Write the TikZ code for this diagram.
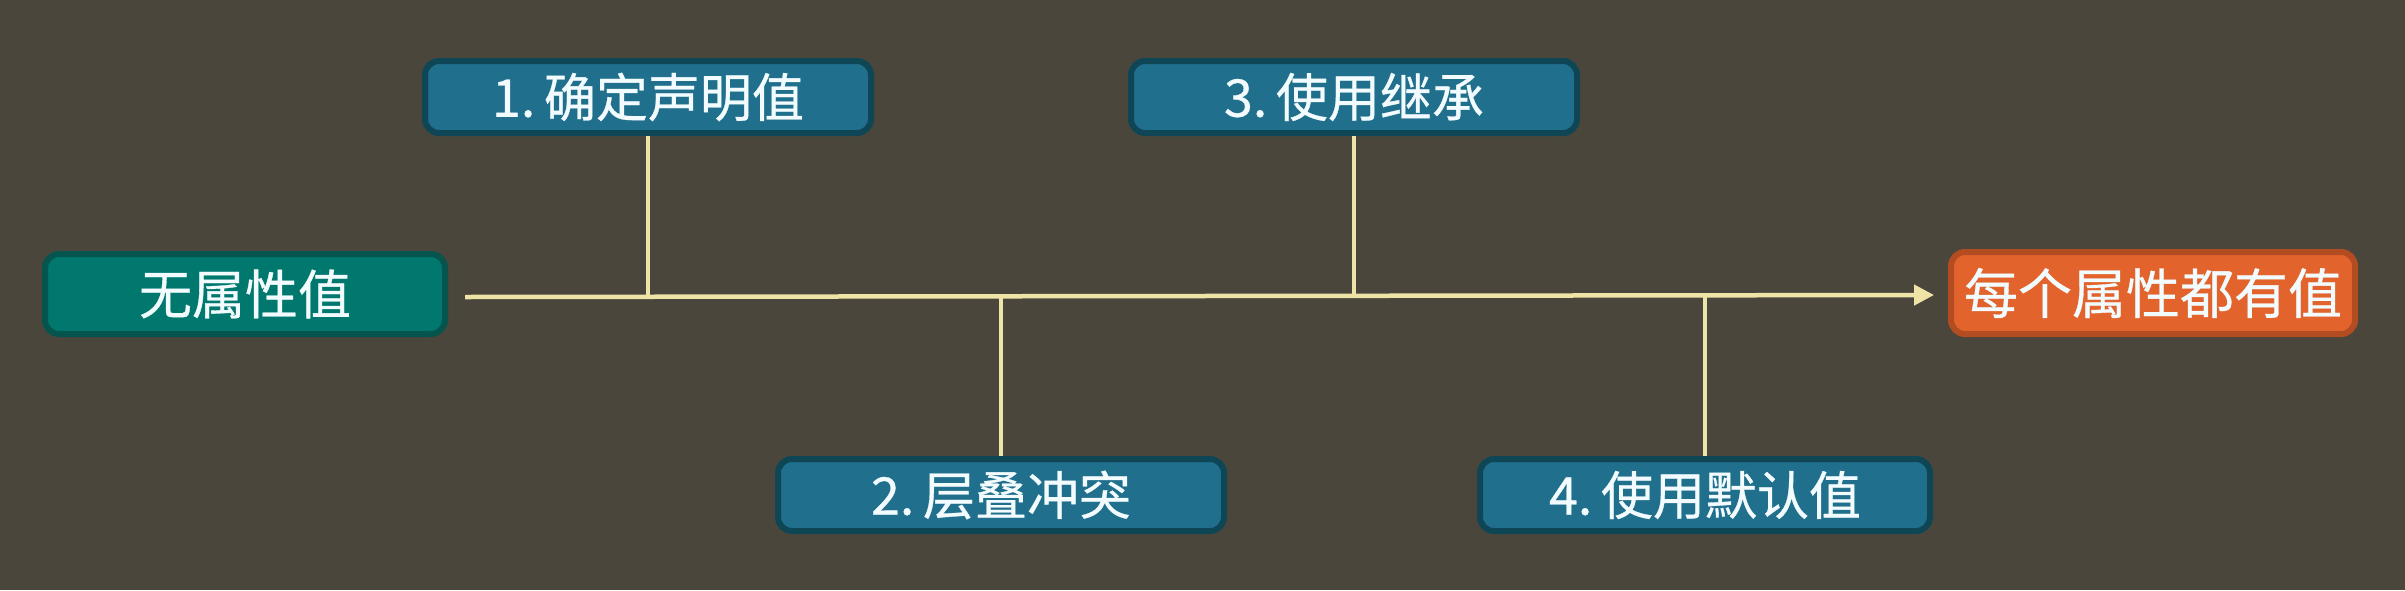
\documentclass[tikz,border=0pt]{standalone}
\usepackage{fontspec}
\usepackage{tikz}
\usetikzlibrary{arrows.meta}
\newfontfamily\cjk[FakeBold=0.6]{Noto Sans CJK SC}
\definecolor{bgolive}{HTML}{4A463C}
\definecolor{tealfill}{HTML}{00786E}
\definecolor{tealrim}{HTML}{05554E}
\definecolor{bluefill}{HTML}{206F8C}
\definecolor{bluerim}{HTML}{0F4656}
\definecolor{orangefill}{HTML}{E2642C}
\definecolor{orangerim}{HTML}{B44C22}
\definecolor{paleline}{HTML}{EDE4A6}
\begin{document}
\begin{tikzpicture}[x=1pt,y=-1pt]
        \tikzset{box/.style={rounded corners=14pt, line width=6pt, inner sep=0pt,
                text=white!95!cyan, font=\cjk\fontsize{52}{56}\selectfont},
            startbox/.style={box, fill=tealfill, draw=tealrim, minimum width=400pt, minimum height=80pt,
                font=\cjk\fontsize{53}{57}\selectfont},
            stepbox/.style={box, fill=bluefill, draw=bluerim, minimum width=446pt, minimum height=72pt},
            endbox/.style={box, fill=orangefill, draw=orangerim, minimum width=404pt, minimum height=82pt,
                font=\cjk\fontsize{54}{58}\selectfont},
            flow/.style={draw=paleline, line width=4.5pt},
            stem/.style={draw=paleline, line width=4pt}}
        \fill [bgolive] (0,0) rectangle (2405,590);
        \useasboundingbox (0,0) rectangle (2405,590);
        \node [startbox] (start) at (245,294) {无属性值};
        \node [stepbox] (s1) at (648,97) {1.\,确定声明值};
        \node [stepbox] (s2) at (1001,495) {2.\,层叠冲突};
        \node [stepbox] (s3) at (1354,97) {3.\,使用继承};
        \node [stepbox, minimum width=450pt] (s4) at (1705,495) {4.\,使用默认值};
        \node [endbox] (finish) at (2153,293) {每个属性都有值};
        \coordinate (lineL) at ([xshift=17pt, yshift=-3pt]start.east);
        \coordinate (lineR) at ([xshift=-14pt, yshift=-2pt]finish.west);
        \draw [flow, -{Triangle[length=20pt, width=20pt]}] (lineL) -- (lineR);
        \draw [stem] (s1.south) -- (s1.south |- lineL);
        \draw [stem] (s2.north) -- (s2.north |- lineL);
        \draw [stem] (s3.south) -- (s3.south |- lineL);
        \draw [stem] (s4.north) -- (s4.north |- lineL);
    \end{tikzpicture}
\end{document}
